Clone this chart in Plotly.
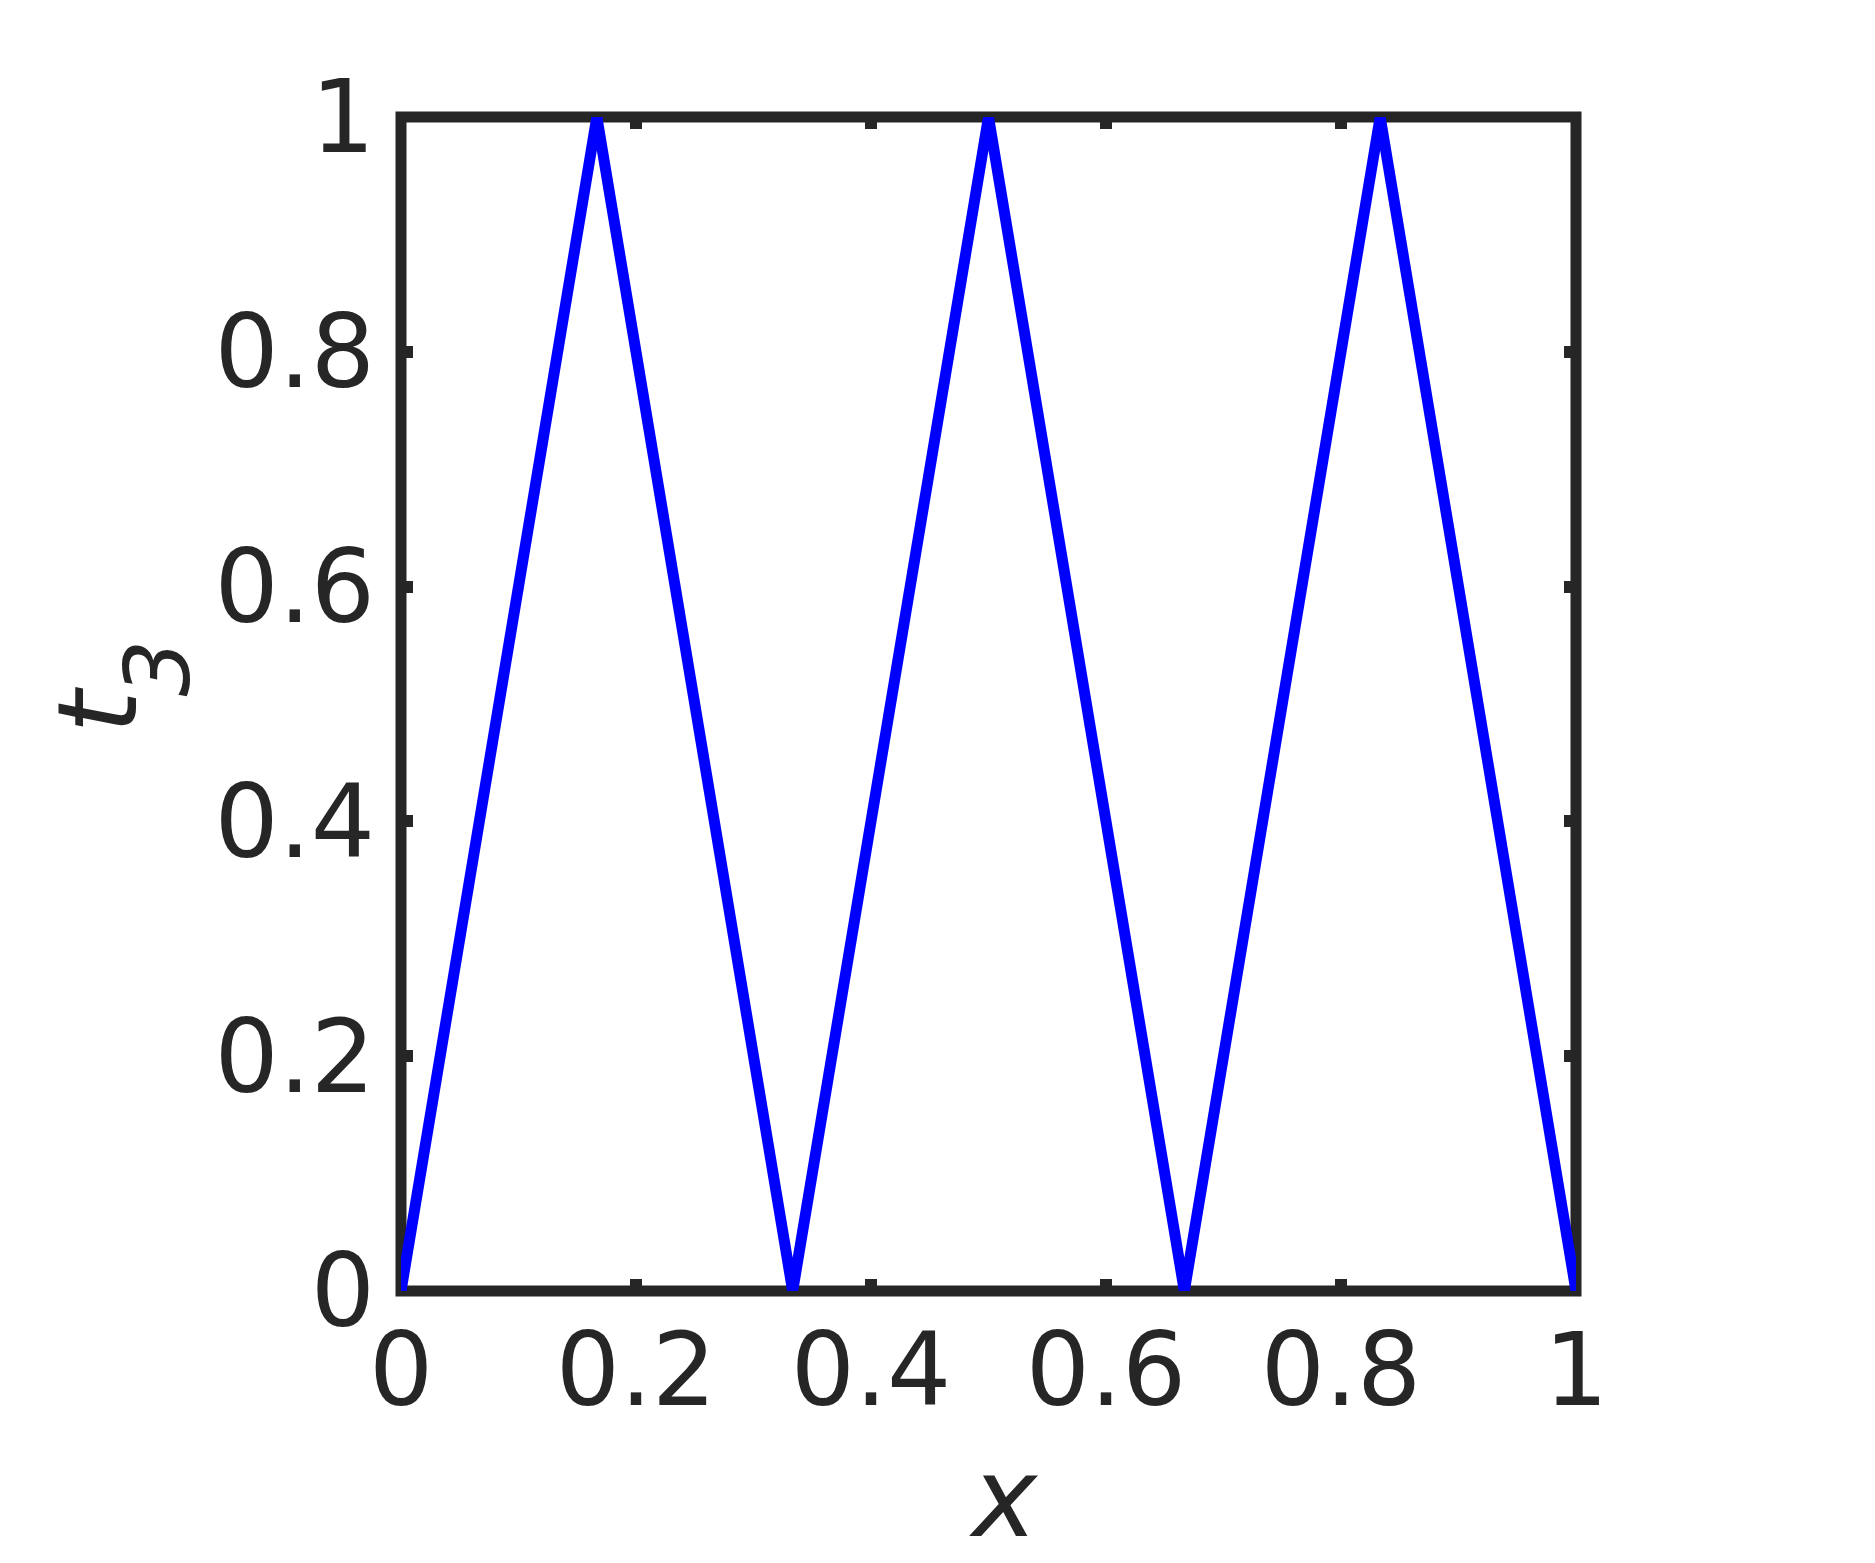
import plotly.graph_objects as go

# data: triangle wave t_3(x)
x_vals = [0, 1/6, 1/3, 1/2, 2/3, 5/6, 1]
t3_vals = [0, 1, 0, 1, 0, 1, 0]
x_ticks = [0, 0.2, 0.4, 0.6, 0.8, 1]
x_ticklabels = ["0", "0.2", "0.4", "0.6", "0.8", "1"]
y_ticks = [0, 0.2, 0.4, 0.6, 0.8, 1]
y_ticklabels = ["0", "0.2", "0.4", "0.6", "0.8", "1"]

INK = "#262626"
FONT = "DejaVu Sans"

fig = go.Figure()
fig.add_trace(go.Scatter(x=x_vals, y=t3_vals, mode="lines",
                         line=dict(color="#0000ff", width=11),
                         showlegend=False, cliponaxis=False))

# frame box centered on the plot-area edges (paper refs are not clipped)
fig.add_shape(type="rect", xref="paper", yref="paper", x0=0, x1=1, y0=0, y1=1,
              line=dict(color=INK, width=11), layer="below")

axis_common = dict(
    showgrid=False, zeroline=False, showline=False,
    ticks="inside", ticklen=12, tickwidth=12, tickcolor=INK,
    mirror="ticks",
    tickfont=dict(family=FONT, size=101, color=INK),
)

fig.update_xaxes(range=[0, 1], tickvals=x_ticks, ticktext=x_ticklabels,
                 ticklabelstandoff=12, **axis_common)
fig.update_yaxes(range=[0, 1], tickvals=y_ticks, ticktext=y_ticklabels,
                 ticklabelstandoff=25, **axis_common)

# axis titles
fig.add_annotation(text="<i>x</i>", xref="paper", yref="paper", x=0, y=0,
                   xshift=603, yshift=-207, showarrow=False,
                   xanchor="center", yanchor="middle",
                   font=dict(family=FONT, size=110, color=INK))
fig.add_annotation(text="<i>t</i>", xref="paper", yref="paper", x=0, y=0,
                   xshift=-303.5, yshift=581, showarrow=False, textangle=-90,
                   xanchor="center", yanchor="middle",
                   font=dict(family=FONT, size=110, color=INK))
fig.add_annotation(text="<i>3</i>", xref="paper", yref="paper", x=0, y=0,
                   xshift=-243.5, yshift=623, showarrow=False, textangle=-90,
                   xanchor="center", yanchor="middle",
                   font=dict(family=FONT, size=89, color=INK))

fig.update_layout(
    width=1867, height=1555,
    margin=dict(l=393, r=299, t=109, b=272, autoexpand=False),
    plot_bgcolor="white", paper_bgcolor="white",
)

fig.write_html("out.html")
